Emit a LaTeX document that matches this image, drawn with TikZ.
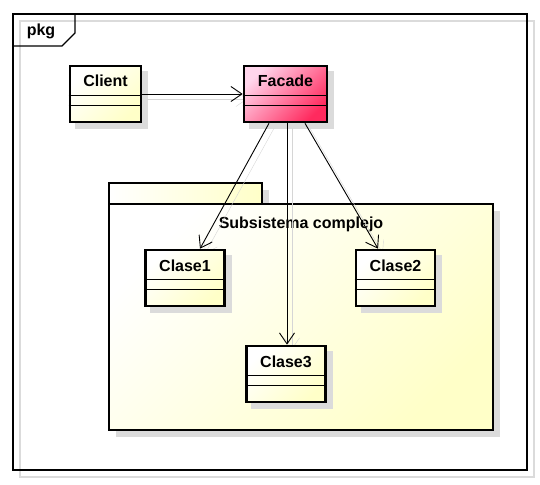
\documentclass[tikz,border=0pt]{standalone}
\usepackage{fontspec}
\setmainfont{Liberation Sans}
\usetikzlibrary{arrows.meta,positioning}

\definecolor{amarillo}{HTML}{FFFFC8}
\definecolor{rosaclaro}{HTML}{FFD6EC}
\definecolor{rosa}{HTML}{FF2A5E}
\pgfdeclarelayer{sombrafondo}
\pgfdeclarelayer{fondo}
\pgfdeclarelayer{sombras}
\pgfsetlayers{sombrafondo,fondo,sombras,main}

\begin{document}
\begin{tikzpicture}[
	x=1pt, y=-1pt,
	font=\fontsize{16}{19}\selectfont\bfseries,
	clase/.style={
		rectangle,
		draw,
		line width=2.6pt,
		inner sep=0pt,
		minimum width=79pt,
		minimum height=56pt,
		text height=21pt,
		text depth=35pt,
		top color=white,
		bottom color=amarillo,
		shading angle=45
	},
	fachada/.style={
		clase,
		top color=rosaclaro,
		bottom color=rosa,
		shading angle=45
	},
	paquete/.style={
		rectangle,
		draw,
		line width=2.6pt,
		inner sep=0pt,
		outer sep=0pt,
		top color=white,
		bottom color=amarillo,
		shading angle=45
	},
	pestana/.style={
		rectangle,
		draw,
		line width=2.6pt,
		inner sep=0pt,
		outer sep=0pt,
		left color=white,
		right color=amarillo
	},
	sombra/.style={fill=black!14},
	dep/.style={
		draw=black,
		line width=0.9pt,
		-{Straight Barb[length=11pt, width=15pt]},
		preaction={draw=black!16, transform canvas={shift={(5pt,-5pt)}}}
	}]

	\useasboundingbox (0,0) rectangle (540,484);

	\begin{pgfonlayer}{fondo}
	% marco del diagrama
	\draw[black!14, line width=1.3pt] (20,21) rectangle (534,477);
	\draw[line width=1.3pt] (13,14) rectangle (527,470);
	\draw[line width=1.3pt] (13,46) -- (62,46) -- (75,33) -- (75,14);
	\node (pkg) at (41,31) {pkg};

	% paquete
	\node[paquete, minimum width=384pt, minimum height=226pt,
		text height=24pt, text depth=202pt] (subsistema) at (301,317) {Subsistema complejo};
	\node[pestana, minimum width=153pt, minimum height=21pt, anchor=south west]
		(tab) at (subsistema.north west) {};
	\end{pgfonlayer}

	% clases
	\node[clase, minimum width=71pt] (client) at (105.5,94) {Client};
	\node[fachada, minimum width=83pt] (facade) at (285.5,94) {Facade};
	\node[clase] (clase1) at (185,278) {Clase1};
	\node[clase] (clase2) at (395.5,278) {Clase2};
	\node[clase] (clase3) at (286,374) {Clase3};

	\foreach \c in {client,facade,clase1,clase2,clase3} {
		\draw[line width=0.9pt] ([yshift=-31pt]\c.north west) -- ([yshift=-31pt]\c.north east);
		\draw[line width=0.9pt] ([yshift=-41pt]\c.north west) -- ([yshift=-41pt]\c.north east);
	}

	% sombras
	\begin{pgfonlayer}{sombrafondo}
	\foreach \c in {subsistema,tab}
		\fill[sombra] ([shift={(7pt,-7pt)}]\c.south west) rectangle ([shift={(7pt,-7pt)}]\c.north east);
	\end{pgfonlayer}
	\begin{pgfonlayer}{sombras}
	\foreach \c in {client,facade,clase1,clase2,clase3}
		\fill[sombra] ([shift={(6pt,-6pt)}]\c.south west) rectangle ([shift={(6pt,-6pt)}]\c.north east);

	\path
		(client.east) edge[dep] (facade.west)
		([xshift=-16.5pt]facade.south) edge[dep] ([xshift=15pt]clase1.north)
		([xshift=1.5pt]facade.south) edge[dep] ([xshift=1pt]clase3.north)
		([xshift=19.5pt]facade.south) edge[dep] ([xshift=-17.5pt]clase2.north);
	\end{pgfonlayer}
\end{tikzpicture}
\end{document}
